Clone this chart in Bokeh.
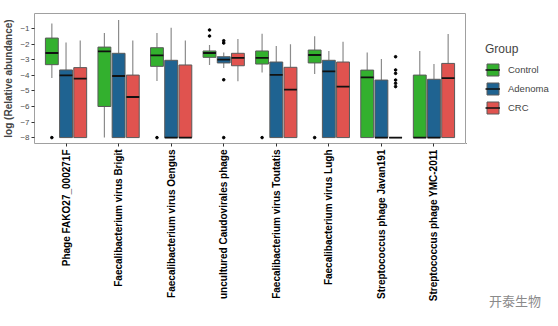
import math
from bokeh.plotting import figure
from bokeh.layouts import row
from bokeh.models import FixedTicker, Range1d, Legend, LegendItem, LinearAxis, ColumnDataSource
from bokeh.embed import file_html
from bokeh.resources import INLINE

categories = ["Phage FAKO27_000271F", "Faecalibacterium virus Brigit",
              "Faecalibacterium virus Oengus", "uncultured Caudovirales phage",
              "Faecalibacterium virus Toutatis", "Faecalibacterium virus Lugh",
              "Streptococcus phage Javan191", "Streptococcus phage YMC-2011"]
groups = ["Control", "Adenoma", "CRC"]

control_lo = [-4.17, -8.0, -4.36, -3.33, -3.82, -3.91, -8.0, -8.0]
control_q1 = [-3.31, -6.0, -3.42, -2.84, -3.27, -3.20, -8.0, -8.0]
control_med = [-2.56, -2.46, -2.71, -2.56, -2.88, -2.69, -4.13, -8.0]
control_q3 = [-1.60, -2.18, -2.22, -2.43, -2.43, -2.37, -3.66, -3.98]
control_hi = [-0.66, -1.28, -1.28, -2.05, -1.32, -1.49, -2.52, -2.43]
control_out_cat = [1, 3, 4, 4, 5, 6]
control_out_val = [-8.0, -8.0, -1.08, -1.47, -8.0, -8.0]

adenoma_lo = [-8.0, -8.0, -8.0, -3.53, -8.0, -8.0, -8.0, -8.0]
adenoma_q1 = [-8.0, -8.0, -8.0, -3.20, -8.0, -8.0, -8.0, -8.0]
adenoma_med = [-4.00, -4.04, -8.0, -2.99, -3.97, -3.74, -8.0, -8.0]
adenoma_q3 = [-3.65, -2.58, -3.03, -2.80, -3.14, -3.03, -4.30, -4.25]
adenoma_hi = [-1.88, -0.44, -0.93, -2.52, -2.11, -2.43, -2.95, -3.27]
adenoma_out_cat = [4, 4, 4, 4]
adenoma_out_val = [-1.77, -1.92, -4.28, -8.0]

crc_lo = [-8.0, -8.0, -8.0, -4.38, -8.0, -8.0, -8.0, -8.0]
crc_q1 = [-8.0, -8.0, -8.0, -3.38, -8.0, -8.0, -8.0, -8.0]
crc_med = [-4.21, -5.39, -8.0, -2.88, -4.91, -4.72, -8.0, -4.17]
crc_q3 = [-3.50, -3.98, -3.33, -2.58, -3.48, -3.14, -8.0, -3.23]
crc_hi = [-1.75, -1.75, -1.75, -1.66, -2.00, -1.84, -8.0, -1.34]
crc_out_cat = [7, 7, 7, 7, 7, 7]
crc_out_val = [-2.80, -3.65, -3.87, -4.30, -4.51, -4.72]

y_ticks = [-1, -2, -3, -4, -5, -6, -7, -8]
watermark = "开泰生物"

colors = ["#33B02E", "#1F6391", "#E0534F"]
offsets = [-0.27, 0.0, 0.27]
box_w = 0.245

series = [
    (control_lo, control_q1, control_med, control_q3, control_hi, control_out_cat, control_out_val),
    (adenoma_lo, adenoma_q1, adenoma_med, adenoma_q3, adenoma_hi, adenoma_out_cat, adenoma_out_val),
    (crc_lo, crc_q1, crc_med, crc_q3, crc_hi, crc_out_cat, crc_out_val),
]

p = figure(width=466, height=326, output_backend="svg", toolbar_location=None,
           x_range=Range1d(0.4, 8.6), y_range=Range1d(-8.38, -0.02),
           min_border_left=33, min_border_right=1, min_border_top=13, min_border_bottom=183)
p.background_fill_color = "white"
p.border_fill_color = "white"
p.outline_line_color = "#A0A0A0"
p.outline_line_width = 1
p.xgrid.visible = False
p.ygrid.visible = False

for gi, (lo, q1, med, q3, hi, oc, ov) in enumerate(series):
    xs = [i + 1 + offsets[gi] for i in range(len(categories))]
    src = ColumnDataSource(dict(x=xs, lo=lo, q1=q1, med=med, q3=q3, hi=hi,
                                x0=[x - box_w / 2 for x in xs], x1=[x + box_w / 2 for x in xs]))
    p.segment(x0="x", y0="q3", x1="x", y1="hi", source=src, line_color="#8C8C8C", line_width=1.2)
    p.segment(x0="x", y0="q1", x1="x", y1="lo", source=src, line_color="#8C8C8C", line_width=1.2)
    p.vbar(x="x", width=box_w, top="q3", bottom="q1", source=src,
           fill_color=colors[gi], line_color="#5A5A5A", line_width=1)
    p.segment(x0="x0", y0="med", x1="x1", y1="med", source=src,
              line_color="#111111", line_width=1.8)
    oxs = [c + offsets[gi] for c in oc]
    p.scatter(oxs, ov, size=2.6, color="black", marker="circle")

p.xaxis.ticker = FixedTicker(ticks=list(range(1, len(categories) + 1)))
p.xaxis.major_label_overrides = {i + 1: c for i, c in enumerate(categories)}
p.xaxis.major_label_orientation = math.pi / 2
p.xaxis.major_label_text_font = "Liberation Sans"
p.xaxis.major_label_text_font_style = "bold"
p.xaxis.major_label_text_font_size = "10px"
p.xaxis.major_label_text_color = "black"
p.xaxis.major_label_standoff = 3
p.xaxis.minor_tick_line_color = None
p.xaxis.major_tick_out = 3
p.xaxis.major_tick_in = 0
p.xaxis.major_tick_line_color = "#333333"
p.xaxis.axis_line_color = None

p.yaxis.ticker = FixedTicker(ticks=y_ticks)
p.yaxis.major_label_overrides = {t: "\u2212" + str(abs(t)) for t in y_ticks}
p.yaxis.major_label_text_font = "Liberation Sans"
p.yaxis.major_label_text_font_size = "8px"
p.yaxis.major_label_text_color = "#4D4D4D"
p.yaxis.major_label_standoff = 2
p.yaxis.minor_tick_line_color = None
p.yaxis.major_tick_out = 3
p.yaxis.major_tick_in = 0
p.yaxis.major_tick_line_color = "#333333"
p.yaxis.axis_line_color = None
p.yaxis.axis_label = "log (Relative abundance)"
p.yaxis.axis_label_text_font = "Liberation Sans"
p.yaxis.axis_label_text_font_style = "bold"
p.yaxis.axis_label_text_font_size = "10px"
p.yaxis.axis_label_standoff = 3

# side panel with legend and watermark
s = figure(width=92, height=326, output_backend="svg", toolbar_location=None,
           x_range=Range1d(0, 92), y_range=Range1d(0, 130),
           min_border_left=0, min_border_right=0, min_border_top=13, min_border_bottom=183)
s.xaxis.visible = False
s.yaxis.visible = False
s.grid.visible = False
s.outline_line_color = None
s.background_fill_color = "white"
s.border_fill_color = "white"

items = []
for gi, g in enumerate(groups):
    es = ColumnDataSource(dict(x=[-500], top=[-500], bottom=[-501], x0=[-501], x1=[-500], y=[-500]))
    r1 = s.vbar(x="x", width=1, top="top", bottom="bottom", source=es,
                fill_color=colors[gi], line_color="#5A5A5A", line_width=1)
    r2 = s.segment(x0="x0", y0="y", x1="x1", y1="y", source=es, line_color="#111111", line_width=1.5)
    items.append(LegendItem(label=g, renderers=[r1, r2]))

legend = Legend(items=items, location=(19, 28), title="Group",
                title_text_font="Liberation Sans", title_text_font_size="12px",
                title_text_font_style="normal", title_standoff=6,
                label_text_font="Liberation Sans", label_text_font_size="9.5px",
                glyph_width=15, glyph_height=15, spacing=4, padding=0, margin=0,
                label_standoff=8, border_line_color=None, background_fill_alpha=0)
s.add_layout(legend)

# watermark placed as the single label of an invisible bottom axis
wm_axis = LinearAxis(ticker=FixedTicker(ticks=[48.5]),
                     major_label_overrides={48.5: watermark},
                     major_label_text_font="Noto Sans CJK SC",
                     major_label_text_font_size="13px",
                     major_label_text_color="#8A8A8A",
                     major_label_standoff=141,
                     axis_line_color=None, major_tick_line_color=None,
                     minor_tick_line_color=None)
s.add_layout(wm_axis, "below")

layout = row(p, s)
open("out.html", "w").write(file_html(layout, INLINE))
